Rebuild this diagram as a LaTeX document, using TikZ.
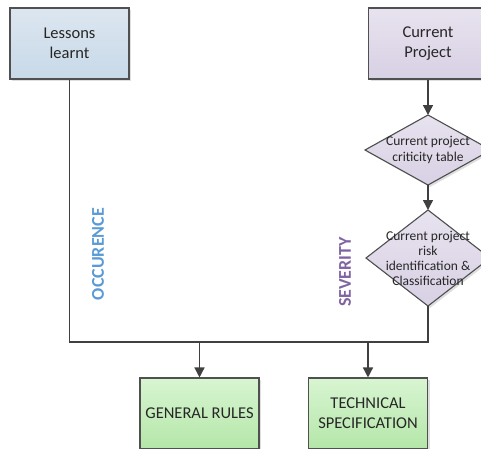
\documentclass[tikz,border=0pt]{standalone}
\usepackage{fontspec}
\setmainfont{Carlito}
\usetikzlibrary{arrows.meta,shadows}
\definecolor{lineC}{HTML}{404040}
\definecolor{edgeC}{HTML}{505050}
\definecolor{txtC}{HTML}{262626}
\definecolor{blueT}{HTML}{DCE6F0}
\definecolor{blueB}{HTML}{C8D9E8}
\definecolor{lavT}{HTML}{E8E3EF}
\definecolor{lavB}{HTML}{D8D0E4}
\definecolor{grnT}{HTML}{D8F5D2}
\definecolor{grnB}{HTML}{B4E6A8}
\definecolor{occC}{HTML}{5B9BD5}
\definecolor{sevC}{HTML}{8064A2}
\tikzset{
  box/.style={draw=edgeC, line width=1.1pt, minimum width=119pt, minimum height=71pt, inner sep=0pt, align=center, text=txtC, font=\fontsize{16.5}{20}\selectfont, drop shadow={shadow xshift=2pt, shadow yshift=-2pt, opacity=0.25}},
  bluebox/.style={box, top color=blueT, bottom color=blueB},
  lavbox/.style={box, top color=lavT, bottom color=lavB},
  grnbox/.style={box, top color=grnT, bottom color=grnB},
  dtext/.style={align=center, text=txtC, inner sep=0pt},
  conn/.style={draw=lineC, line width=1.4pt},
  arr/.style={conn, -{Triangle[length=10pt,width=10pt]}},
  vlabel/.style={rotate=90, font=\fontsize{18}{20}\selectfont\bfseries, inner sep=0pt}
}
\begin{document}
\begin{tikzpicture}[x=1pt,y=-1pt]
\useasboundingbox (0,0) rectangle (481,448);
\clip (0,0) rectangle (481,448);
% top boxes
\node[bluebox] (lessons) at (69.5,43.5) {Lessons\\learnt};
\node[lavbox] (current) at (428,43.5) {Current\\Project};
% diamond 1
\coordinate (d1) at (428,150);
\coordinate (d1n) at (428,115);
\coordinate (d1s) at (428,185);
\filldraw[draw=edgeC, line width=1.1pt, top color=lavT, bottom color=lavB, drop shadow={shadow xshift=2pt, shadow yshift=-2pt, opacity=0.25}]
  (d1n) -- (491,150) -- (d1s) -- (365,150) -- cycle;
\node[dtext, font=\fontsize{13.5}{16}\selectfont] (d1t) at (d1) {Current project\\criticity table};
% diamond 2
\coordinate (d2) at (428,258);
\coordinate (d2n) at (428,210);
\coordinate (d2s) at (428,306);
\filldraw[draw=edgeC, line width=1.1pt, top color=lavT, bottom color=lavB, drop shadow={shadow xshift=2pt, shadow yshift=-2pt, opacity=0.25}]
  (d2n) -- (490,258) -- (d2s) -- (366,258) -- cycle;
\node[dtext, font=\fontsize{13.5}{15}\selectfont] (d2t) at (d2) {Current project\\risk\\identification \&\\Classification};
% bottom boxes
\node[grnbox] (general) at (199.5,413.5) {GENERAL RULES};
\node[grnbox] (tech) at (368,413.5) {TECHNICAL\\SPECIFICATION};
% connectors
\coordinate (bl) at (lessons.south |- 0,342);
\coordinate (br) at (d2s |- 0,342);
\coordinate (jg) at (general.north |- 0,342);
\coordinate (jt) at (tech.north |- 0,342);
\draw[arr] (current.south) -- (d1n);
\draw[arr] (d1s) -- (d2n);
\draw[conn] (lessons.south) -- (bl) -- (br) -- (d2s);
\draw[arr] (jg) -- (general.north);
\draw[arr] (jt) -- (tech.north);
% labels
\node[vlabel, text=occC] (occ) at (98,254) {OCCURENCE};
\node[vlabel, text=sevC] (sev) at (345,272) {SEVERITY};
\end{tikzpicture}
\end{document}
